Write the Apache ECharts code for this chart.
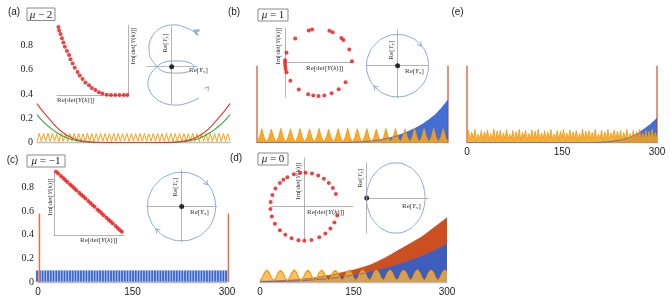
<!DOCTYPE html>
<html><head><meta charset="utf-8">
<script src="https://cdn.jsdelivr.net/npm/echarts@6/dist/echarts.min.js"></script>
<style>html,body{margin:0;padding:0;background:#fff}#c{width:670px;height:297px}</style>
</head><body><div id="c"></div>
<script>
// ---------- main panel data (site index 0..300) ----------
const siteMax = 300;
const xTicks = [0, 150, 300];
const yTicks = [0, 0.2, 0.4, 0.6, 0.8];

// (a) mu = 2
const redA   = [0.32,0.25,0.19,0.13,0.085,0.05,0.028,0.015,0.008,0.004,0.002,0.001,0,0,0,0,0,0,0,0.001,0.002,0.004,0.008,0.015,0.028,0.05,0.085,0.13,0.19,0.25,0.32];
const greenA = [0.23,0.17,0.125,0.085,0.055,0.033,0.019,0.01,0.005,0.002,0.001,0,0,0,0,0,0,0,0,0,0.001,0.002,0.005,0.01,0.019,0.033,0.055,0.085,0.125,0.17,0.23];
const orangeA = [0.012,0.076,0.010,0.074,0.013,0.077,0.011,0.075,0.012,0.073,0.010,0.076,0.012,0.075,0.011,0.074,0.013,0.077,0.010,0.075,0.012,0.074,0.011,0.076,0.012,0.075,0.010,0.073,0.013,0.076,0.011,0.075,0.012,0.074,0.010,0.077,0.012,0.075,0.011,0.074,0.013,0.076,0.010,0.075,0.012,0.074,0.011,0.077,0.012,0.075,0.010,0.073,0.013,0.076,0.011,0.075,0.012,0.074,0.010,0.076,0.012,0.075,0.011,0.074,0.013,0.077,0.010,0.075,0.012,0.074,0.011,0.076,0.012,0.075,0.010,0.073,0.013,0.076,0.011,0.075,0.012,0.074,0.010,0.077,0.012,0.075,0.011,0.074,0.012];

// (b) mu = 1
const blueB = [0,0,0,0,0,0,0,0,0,0,0,0,0,0,0.002,0.004,0.006,0.009,0.014,0.021,0.03,0.042,0.057,0.075,0.097,0.122,0.152,0.188,0.23,0.285,0.35];
const orangeB = [0.006,0.045,0.115,0.045, 0.006,0.044,0.112,0.045, 0.006,0.046,0.118,0.045, 0.006,0.045,0.114,0.044, 0.006,0.045,0.116,0.046, 0.006,0.044,0.113,0.045, 0.006,0.046,0.117,0.045, 0.006,0.045,0.112,0.044, 0.006,0.045,0.115,0.045, 0.006,0.044,0.118,0.046, 0.006,0.045,0.114,0.045, 0.006,0.046,0.116,0.044, 0.006,0.045,0.112,0.045, 0.006,0.044,0.117,0.046, 0.006,0.045,0.115,0.045, 0.006,0.046,0.113,0.044, 0.006,0.045,0.116,0.045, 0.006,0.044,0.114,0.046, 0.006,0.045,0.117,0.045, 0.006,0.046,0.115,0.045, 0.006];
const spikeB = [0.63, 0.63];

// (e)
const blueE = [0,0,0,0,0,0,0,0,0,0,0,0,0,0,0,0,0,0,0,0,0,0.003,0.007,0.013,0.02,0.032,0.05,0.078,0.112,0.152,0.2];
const orangeE = [0.03,0.1,0.02,0.085,0.035,0.11,0.015,0.07,0.03,0.1,0.025,0.09,0.04,0.105,0.02,0.075,0.03,0.11,0.015,0.095,0.035,0.1,0.02,0.08,0.03,0.108,0.025,0.07,0.035,0.1,0.02,0.09,0.03,0.11,0.015,0.085,0.04,0.1,0.02,0.075,0.03,0.105,0.025,0.095,0.035,0.11,0.02,0.08,0.03,0.1,0.015,0.09,0.035,0.108,0.025,0.07,0.03,0.1,0.02,0.095,0.04,0.11,0.02,0.08,0.03,0.105,0.025,0.09,0.035,0.1,0.015,0.075,0.03,0.11,0.02,0.095,0.035,0.1,0.025,0.085,0.03,0.108,0.02,0.07,0.035,0.1,0.015,0.09,0.03,0.11,0.025,0.08,0.04,0.105,0.02,0.095,0.03,0.1,0.02,0.085,0.035,0.11,0.015,0.075,0.03,0.1,0.025,0.09,0.035,0.108,0.02,0.08,0.03,0.1,0.025,0.095,0.035,0.11,0.02,0.085,0.03];
const spikeE = [0.63, 0.63];

// (c) mu = -1
const blueC = [0.1,0.1,0.1,0.1,0.1,0.1,0.1,0.1,0.1,0.1, 0.1,0.1,0.1,0.1,0.1,0.1,0.1,0.1,0.1,0.1, 0.1,0.1,0.1,0.1,0.1,0.1,0.1,0.1,0.1,0.1, 0.1,0.1,0.1,0.1,0.1,0.1,0.1,0.1,0.1,0.1, 0.1,0.1,0.1,0.1,0.1,0.1,0.1,0.1,0.1,0.1, 0.1,0.1,0.1,0.1,0.1,0.1,0.1,0.1,0.1,0.1, 0.1,0.1,0.1,0.1,0.1,0.1,0.1,0.1,0.1,0.1];
const spikeC = [0.58, 0.58];

// (d) mu = 0
const redD  = [0.005,0.006,0.008,0.01,0.012,0.015,0.02,0.025,0.03,0.036,0.045,0.055,0.065,0.077,0.088,0.1,0.115,0.13,0.15,0.175,0.2,0.23,0.26,0.29,0.32,0.35,0.38,0.42,0.46,0.5,0.54];
const blueD = [0.002,0.003,0.004,0.005,0.006,0.008,0.01,0.013,0.016,0.02,0.024,0.029,0.035,0.042,0.05,0.058,0.067,0.077,0.088,0.1,0.113,0.127,0.143,0.16,0.178,0.197,0.218,0.24,0.265,0.29,0.32];
const orangeD = [0.01,0.035,0.08,0.1,0.08,0.035, 0.01,0.035,0.079,0.098,0.08,0.035, 0.01,0.036,0.08,0.101,0.08,0.035, 0.01,0.035,0.08,0.099,0.079,0.035, 0.01,0.035,0.081,0.1,0.08,0.036, 0.01,0.035,0.08,0.098,0.08,0.035, 0.01,0.034,0.08,0.1,0.081,0.035, 0.01,0.035,0.08,0.102,0.08,0.035, 0.01,0.036,0.079,0.099,0.08,0.035, 0.01,0.035,0.08,0.1,0.08,0.034, 0.01,0.035,0.081,0.098,0.08,0.035, 0.01,0.035,0.08,0.101,0.079,0.036, 0.01,0.034,0.08,0.1,0.08,0.035, 0.01,0.035,0.08,0.099,0.08];

// ---------- inset data ----------
// (a) det curve
const aDetRe = [0.02,0.03,0.05,0.07,0.09,0.11,0.14,0.17,0.19,0.22,0.25,0.29,0.32,0.36,0.40,0.45,0.49,0.54,0.59,0.64,0.70,0.76,0.82,0.88,0.94,0.99];
const aDetIm = [0.97,0.92,0.87,0.81,0.75,0.69,0.63,0.57,0.51,0.45,0.39,0.33,0.28,0.23,0.18,0.14,0.10,0.07,0.04,0.02,0.005,0,0,0,0,0];
// (a) winding loop
const aLoopRe = [-1.09,-0.74,-0.34,0.32,0.92,1.12,0.92,0.32,-0.34,-0.74,-1.09,-1.19,-1.04,-0.69,-0.24,0.27,0.77,1.27,1.67,1.97,2.17,2.22,2.12,1.92,1.57,1.12,0.62,0.17,-0.29,-0.69,-0.99,-1.14,-1.09];
const aLoopIm = [0.49,0,-0.27,-0.32,-0.22,0,0.19,0.29,0.24,0,-0.42,-0.87,-1.32,-1.67,-1.87,-1.92,-1.82,-1.62,-1.32,-0.92,-0.47,-0.02,0.44,0.89,1.34,1.74,1.99,2.09,2.04,1.84,1.49,0.99,0.49];
const aArrowRe = [1.25, 1.78], aArrowIm = [1.75, -1.08], aArrowRot = [60, -37];

// (b) det circle
const bDetRe = [0.809,0.708,1.326,1.423,1.682,1.743,1.921,1.999,0.305,0.044,0.002,0.0,0.005,0.018,0.044,0.161,0.412,0.691,0.844,1.0,1.174,1.391,1.602,1.809];
const bDetIm = [0.982,0.956,0.946,0.906,0.731,0.669,0.391,0.035,0.719,0.292,0.070,-0.017,-0.105,-0.191,-0.292,-0.545,-0.809,-0.951,-0.988,-1.0,-0.985,-0.921,-0.799,-0.588];
// unit winding circle used for (b) and (c)
const circRe = [1,0.924,0.707,0.383,0,-0.383,-0.707,-0.924,-1,-0.924,-0.707,-0.383,0,0.383,0.707,0.924,1];
const circIm = [0,0.383,0.707,0.924,1,0.924,0.707,0.383,0,-0.383,-0.707,-0.924,-1,-0.924,-0.707,-0.383,0];
const cwArrowRe = [0.73,-0.72], cwArrowIm = [0.68,-0.70], cwArrowRot = [-137, 45];

// (c) det line
const cDetRe = [0.03,0.06,0.10,0.13,0.16,0.19,0.23,0.26,0.29,0.32,0.36,0.39,0.42,0.45,0.49,0.52,0.55,0.58,0.62,0.65,0.68,0.71,0.75,0.78,0.81,0.84,0.88,0.91,0.94,0.97];
const cDetIm = [0.99,0.96,0.92,0.89,0.86,0.83,0.79,0.76,0.73,0.70,0.66,0.63,0.60,0.57,0.53,0.50,0.47,0.44,0.40,0.37,0.34,0.31,0.27,0.24,0.21,0.18,0.14,0.11,0.08,0.05];

// (d) det circle and shifted winding circle
const dDetRe = [-0.5,-0.309,-0.122,0.035,0.225,0.407,0.574,0.719,0.839,0.927,0.966,0.883,0.766,0.616,0.438,0.208,0,-0.174,-0.375,-0.559,-0.719,-0.866,-0.956,-0.998,-0.990,-0.940,-0.848,-0.719,-0.616];
const dDetIm = [0.866,0.951,0.993,0.999,0.974,0.914,0.819,0.695,0.545,0.375,-0.259,-0.469,-0.643,-0.788,-0.899,-0.978,-1,-0.985,-0.927,-0.829,-0.695,-0.5,-0.292,-0.070,0.139,0.342,0.530,0.695,0.788];
const dLoopRe = [2,1.924,1.707,1.383,1,0.617,0.293,0.076,0,0.076,0.293,0.617,1,1.383,1.707,1.924,2];
const dLoopIm = [0,0.383,0.707,0.924,1,0.924,0.707,0.383,0,-0.383,-0.707,-0.924,-1,-0.924,-0.707,-0.383,0];

// ---------- helpers ----------
function spread(ys){ const s = siteMax/(ys.length-1); return ys.map((y,i)=>[i*s, y]); }
function zip(xs, ys){ return xs.map((x,i)=>[x, ys[i]]); }
function spikes(vals){ return [[0, vals[0]], [siteMax, vals[1]]]; }

const grids=[], xAxes=[], yAxes=[], series=[];
const AX = '#bdbdbd';
function addMain(box, showX, showY){
  grids.push({left:box[0], top:box[1], width:box[2], height:box[3]});
  const gi = grids.length-1;
  xAxes.push({gridIndex:gi, type:'value', min:0, max:siteMax, interval:150,
    axisLine:{show:true, onZero:false, lineStyle:{color:AX, width:1.3}}, axisTick:{show:false}, splitLine:{show:false},
    axisLabel:{show:showX, margin:5, fontFamily:'Liberation Sans', fontSize:10, color:'#222',
      formatter: v => xTicks.includes(v) ? String(v) : ''}});
  yAxes.push({gridIndex:gi, type:'value', min:0, max:1, interval:0.2,
    axisLine:{show:false}, axisTick:{show:false}, splitLine:{show:false},
    axisLabel:{show:showY, margin:4, fontFamily:'Liberation Serif', fontSize:10, color:'#222',
      formatter: v => { const t = yTicks.find(q => Math.abs(q-v)<1e-6); return t===undefined ? '' : (t===0 ? '0' : t.toFixed(1)); }}});
  return gi;
}
function addInset(box, xr, yr, xOpt, yOpt){
  grids.push({left:box[0], top:box[1], width:box[2], height:box[3]});
  const gi = grids.length-1;
  const base = {gridIndex:gi, type:'value', axisTick:{show:false}, axisLabel:{show:false}, splitLine:{show:false}};
  xAxes.push(Object.assign({}, base, {min:xr[0], max:xr[1], axisLine:Object.assign({show:true, onZero:true, lineStyle:{color:'#a0a0a0', width:0.8}}, xOpt||{})}));
  yAxes.push(Object.assign({}, base, {min:yr[0], max:yr[1], axisLine:Object.assign({show:true, onZero:true, lineStyle:{color:'#a0a0a0', width:0.8}}, yOpt||{})}));
  return gi;
}
function ln(gi, data, color, w, extra){
  return Object.assign({type:'line', xAxisIndex:gi, yAxisIndex:gi, data, symbol:'none', silent:true, animation:false, lineStyle:{color, width:w}}, extra||{});
}
function area(gi, data, fill, stroke, op, w){
  return ln(gi, data, stroke, w||0.8, {areaStyle:{color:fill, opacity:op}});
}
function bars(gi, data, color, w, extra){
  return Object.assign({type:'bar', xAxisIndex:gi, yAxisIndex:gi, data, barWidth:w, silent:true, animation:false, itemStyle:{color}}, extra||{});
}
function dots(gi, data, color, size){
  return {type:'scatter', xAxisIndex:gi, yAxisIndex:gi, data, symbol:'circle', symbolSize:size, silent:true, clip:false, animation:false, itemStyle:{color}};
}
function arrows(gi, re, im, rot){
  return {type:'scatter', xAxisIndex:gi, yAxisIndex:gi, data: zip(re, im), symbol:'path://M0,10L5,0L10,10', symbolSize:[5,4],
    symbolRotate: (v, p) => rot[p.dataIndex], silent:true, clip:false, animation:false,
    itemStyle:{color:'transparent', borderColor:'#7f9dd2', borderWidth:1}};
}
const LOOP = '#8aa6d8', RED_DOT = '#f01010', ORANGE = '#f7a21b', BLUE = '#2f5fcf', SPIKE = '#e2704c';

// ---------- main panels ----------
const gA = addMain([37, 20.7, 193, 122], false, true);
series.push(ln(gA, spread(orangeA), ORANGE, 1));
series.push(ln(gA, spread(greenA), '#3aaa3a', 1.1, {smooth:true}));
series.push(ln(gA, spread(redA), '#ee3535', 1.1, {smooth:true}));

const gB = addMain([257, 20.7, 191, 122], false, false);
series.push(area(gB, spread(blueB), BLUE, '#3a66d4', 0.9, 0.8));
series.push(area(gB, spread(orangeB), ORANGE, '#f39a10', 0.92, 0.8));
series.push(bars(gB, spikes(spikeB), SPIKE, 1.5));

const gE = addMain([467, 20.7, 190, 122], true, false);
series.push(area(gE, spread(blueE), BLUE, '#3a66d4', 0.9, 0.8));
series.push(area(gE, spread(orangeE), ORANGE, '#f39a10', 0.85, 0.8));
series.push(bars(gE, spikes(spikeE), SPIKE, 1.5));

const gC = addMain([38, 164, 189, 120], true, true);
series.push(bars(gC, spread(blueC), '#3561ca', 2.6, {itemStyle:{color:'#3561ca', borderColor:'#b3c4ec', borderWidth:0.4}}));
series.push(bars(gC, spikes(spikeC), SPIKE, 1.5));

const gD = addMain([260, 163, 187, 120], true, false);
series.push(area(gD, spread(redD), '#c8400f', '#d2521f', 0.92, 0.8));
series.push(area(gD, spread(blueD), BLUE, '#3a66d4', 0.9, 0.8));
series.push(area(gD, spread(orangeD), '#f9b13c', '#f39a10', 0.8, 1.2));

// ---------- insets ----------
// (a)
const iA1 = addInset([57, 25, 71, 70], [0, 1], [0, 1], {}, {onZero:false});
yAxes[iA1].position = 'right';
series.push(dots(iA1, zip(aDetRe, aDetIm), RED_DOT, 4));
const iA2 = addInset([147, 27, 51, 76], [-1.235, 1.315], [-1.815, 1.985], {lineStyle:{color:'#a0a0a0', width:0.8, type:'dotted'}}, {});
series.push(ln(iA2, zip(aLoopRe, aLoopIm), LOOP, 1, {smooth:0.35, clip:false}));
series.push(arrows(iA2, aArrowRe, aArrowIm, aArrowRot));
series.push(dots(iA2, [[0,0]], '#000', 5));

// (b)
const iB1 = addInset([285, 28, 68, 69], [0, 2.03], [-1.03, 1.03]);
series.push(dots(iB1, zip(bDetRe, bDetIm), RED_DOT, 4));
const iB2 = addInset([367, 30, 61, 68], [-0.99, 0.98], [-1.04, 1.15]);
series.push(ln(iB2, zip(circRe, circIm), LOOP, 1, {smooth:true, clip:false}));
series.push(arrows(iB2, cwArrowRe, cwArrowIm, cwArrowRot));
series.push(dots(iB2, [[0,0]], '#000', 5));

// (c)
const iC1 = addInset([54, 171, 70, 64], [0, 1], [0, 1]);
series.push(dots(iC1, zip(cDetRe, cDetIm), RED_DOT, 4));
const iC2 = addInset([146.7, 170, 70, 71.7], [-1.03, 1.03], [-1.03, 1.07]);
series.push(ln(iC2, zip(circRe, circIm), LOOP, 1, {smooth:true, clip:false}));
series.push(arrows(iC2, cwArrowRe, cwArrowIm, cwArrowRot));
series.push(dots(iC2, [[0,0]], '#000', 5));

// (d)
const iD1 = addInset([271.7, 158, 81.3, 82], [-0.96, 1.43], [-0.98, 1.43]);
series.push(dots(iD1, zip(dDetRe, dDetIm), RED_DOT, 4));
const iD2 = addInset([366.7, 163, 61.6, 70], [0, 2.11], [-1, 1]);
series.push(ln(iD2, zip(dLoopRe, dLoopIm), LOOP, 1, {smooth:true, clip:false}));
series.push(dots(iD2, [[0,0]], '#000', 5));

// ---------- text ----------
const SERIF = 'Liberation Serif';
const rich = {
  n:{fontSize:7, fontFamily:SERIF, fill:'#333'},
  i:{fontSize:7, fontFamily:SERIF, fontStyle:'italic', fill:'#333'},
  s:{fontSize:5, fontFamily:SERIF, fill:'#333', padding:[3,0,0,0]}
};
const detRe = '{n|Re[det[}{i|Y}{n|(}{i|k}{n|)]]}';
const detIm = '{n|Im[det[}{i|Y}{n|(}{i|k}{n|)]]}';
const yx = '{n|Re[}{i|Y}{s|x}{n|]}';
const yy = '{n|Re[}{i|Y}{s|y}{n|]}';
function t(x, y, text, rot, align){
  return {type:'text', x, y, rotation: rot ? Math.PI/2 : 0, silent:true,
    style:{text, rich, fontSize:7, fontFamily:SERIF, fill:'#333', align: align||'center', verticalAlign:'middle'}};
}
function panelLabel(x, y, s){
  return {type:'text', x, y, silent:true, style:{text:s, fontSize:10, fontFamily:'Liberation Sans', fill:'#222', align:'center', verticalAlign:'middle'}};
}
function muBox(x, y, w, h, s){
  return [
    {type:'rect', shape:{x, y, width:w, height:h}, silent:true, style:{fill:'#fff', stroke:'#8a8a8a', lineWidth:1}},
    {type:'text', x: x + w/2, y: y + h/2 + 0.5, silent:true,
      style:{text:'{i|μ}{n| ' + s + '}', rich:{i:{fontSize:11, fontFamily:SERIF, fontStyle:'italic', fill:'#222'}, n:{fontSize:11, fontFamily:SERIF, fill:'#222'}},
        fontSize:11, fontFamily:SERIF, fill:'#222', align:'center', verticalAlign:'middle'}}
  ];
}
const graphics = [
  panelLabel(14, 12.5, '(a)'), panelLabel(234, 12.5, '(b)'), panelLabel(457.5, 12.5, '(e)'),
  panelLabel(12.5, 160, '(c)'), panelLabel(236, 158.5, '(d)'),
  ...muBox(27, 8, 28, 12.5, '− 2'), ...muBox(258, 9, 30, 12, '= 1'),
  ...muBox(27, 155, 38, 12, '= −1'), ...muBox(258, 153, 30, 12, '= 0'),
  t(57, 100, detRe, false, 'left'), t(133, 46, detIm, true),
  t(165, 43, yy, true), t(189, 70, yx, false, 'left'),
  t(306, 68.5, detRe, false, 'left'), t(278, 46, detIm, true),
  t(390.7, 50, yy, true), t(405, 71.5, yx, false, 'left'),
  t(80, 240.5, detRe, false, 'left'), t(50, 197, detIm, true),
  t(175, 187, yy, true), t(190, 212, yx, false, 'left'),
  t(307, 212, detRe, false, 'left'), t(298.3, 181, detIm, true),
  t(360, 178, yy, true), t(402, 206.5, yx, false, 'left')
];

const chart = echarts.init(document.getElementById('c'), null, {renderer:'canvas'});
chart.setOption({animation:false, backgroundColor:'#fff', grid:grids, xAxis:xAxes, yAxis:yAxes, series, graphic:{elements:graphics}});
</script></body></html>
